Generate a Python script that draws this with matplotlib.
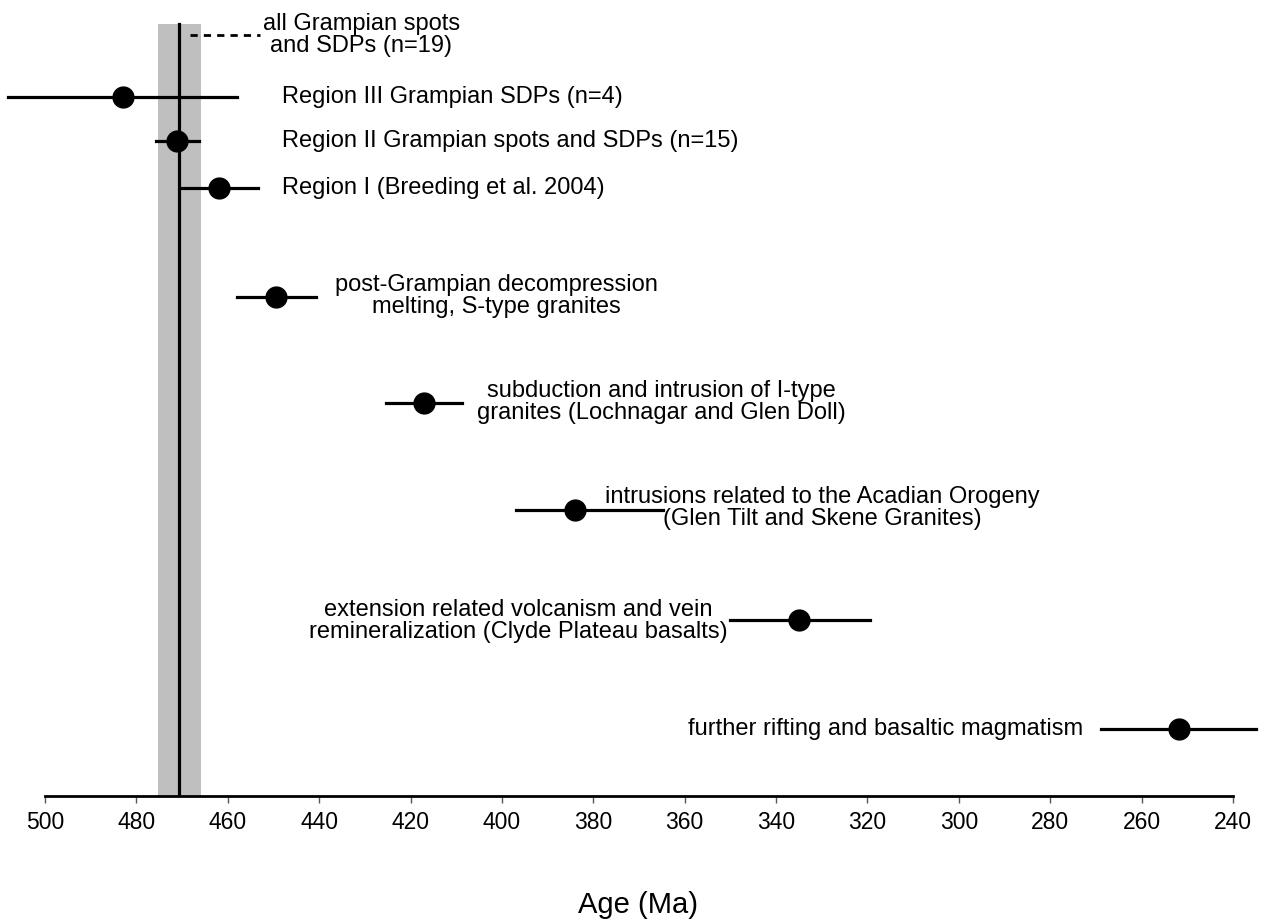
import matplotlib.pyplot as plt

# ages (Ma) and errors
labels = ['Region III Grampian SDPs (n=4)',
          'Region II Grampian spots and SDPs (n=15)',
          'Region I (Breeding et al. 2004)',
          'post-Grampian decompression\nmelting, S-type granites',
          'subduction and intrusion of I-type\ngranites (Lochnagar and Glen Doll)',
          'intrusions related to the Acadian Orogeny\n(Glen Tilt and Skene Granites)',
          'extension related volcanism and vein\nremineralization (Clyde Plateau basalts)',
          'further rifting and basaltic magmatism']
ages = [483, 471.1, 462, 449.4, 417.1, 384, 335, 251.8]
err_lo = [25, 4.6, 8.2, 8.6, 8.3, 13, 15, 17]        # towards older ages
err_hi = [25, 4.8, 8.7, 8.7, 8.4, 19.3, 15.6, 16.8]  # towards younger ages

mean_age = 470.6
mean_err = 4.7
mean_label = 'all Grampian spots\nand SDPs (n=19)'

ticks = [500, 480, 460, 440, 420, 400, 380, 360, 340, 320, 300, 280, 260, 240]

# layout: row positions (0 = top, 796 = axis) and label anchors
rows = [97, 141, 188, 297, 403, 510, 620, 729]
lab_y = [97, 141, 188, 296, 402, 508, 621, 729]
lab_x = [448.1, 448.1, 448.1, 401.1, 365.2, 329.9, 396.5, 272.8]
lab_ha = ['left', 'left', 'left', 'center', 'center', 'center', 'center', 'right']

plt.rcParams['font.family'] = ['Liberation Sans', 'DejaVu Sans']

fig = plt.figure(figsize=(12.72, 9.22), dpi=100)
ax = fig.add_axes([0, 1 - 796 / 922, 1, 796 / 922])
ax.set_xlim(509.85, 231.45)
ax.set_ylim(796, 0)

# grey band and mean line
ax.fill_betweenx([24, 796], mean_age + mean_err, mean_age - mean_err,
                 color='#bfbfbf', lw=0, zorder=1)
ax.plot([mean_age, mean_age], [24, 796], color='black', lw=2.3, zorder=2)
ax.plot([468.2, 453], [35, 35], color='black', lw=2, ls=(0, (2.6, 2.2)), zorder=2)
ax.text(430.8, 35, mean_label, ha='center', va='center', fontsize=17,
        linespacing=0.98)

for i in range(len(ages)):
    lo = ages[i] + err_lo[i]
    hi = ages[i] - err_hi[i]
    ax.plot([lo, hi], [rows[i], rows[i]], color='black', lw=2.3, zorder=3)
    ax.plot(ages[i], rows[i], 'o', color='black', ms=15, zorder=4)
    ax.text(lab_x[i], lab_y[i], labels[i], ha=lab_ha[i], va='center',
            fontsize=17, linespacing=0.98)

for s in ['top', 'right', 'left']:
    ax.spines[s].set_visible(False)
ax.spines['bottom'].set_bounds(240, 500)
ax.spines['bottom'].set_linewidth(2)
ax.set_yticks([])
ax.set_xticks(ticks)
ax.set_xticklabels([str(t) for t in ticks], fontsize=16.5)
ax.tick_params(axis='x', length=5, width=1, pad=6, color='#555555')

fig.text(638 / 1272, 1 - 913 / 922, 'Age (Ma)', ha='center', va='baseline', fontsize=21)

fig.savefig('out.png', dpi=100)
